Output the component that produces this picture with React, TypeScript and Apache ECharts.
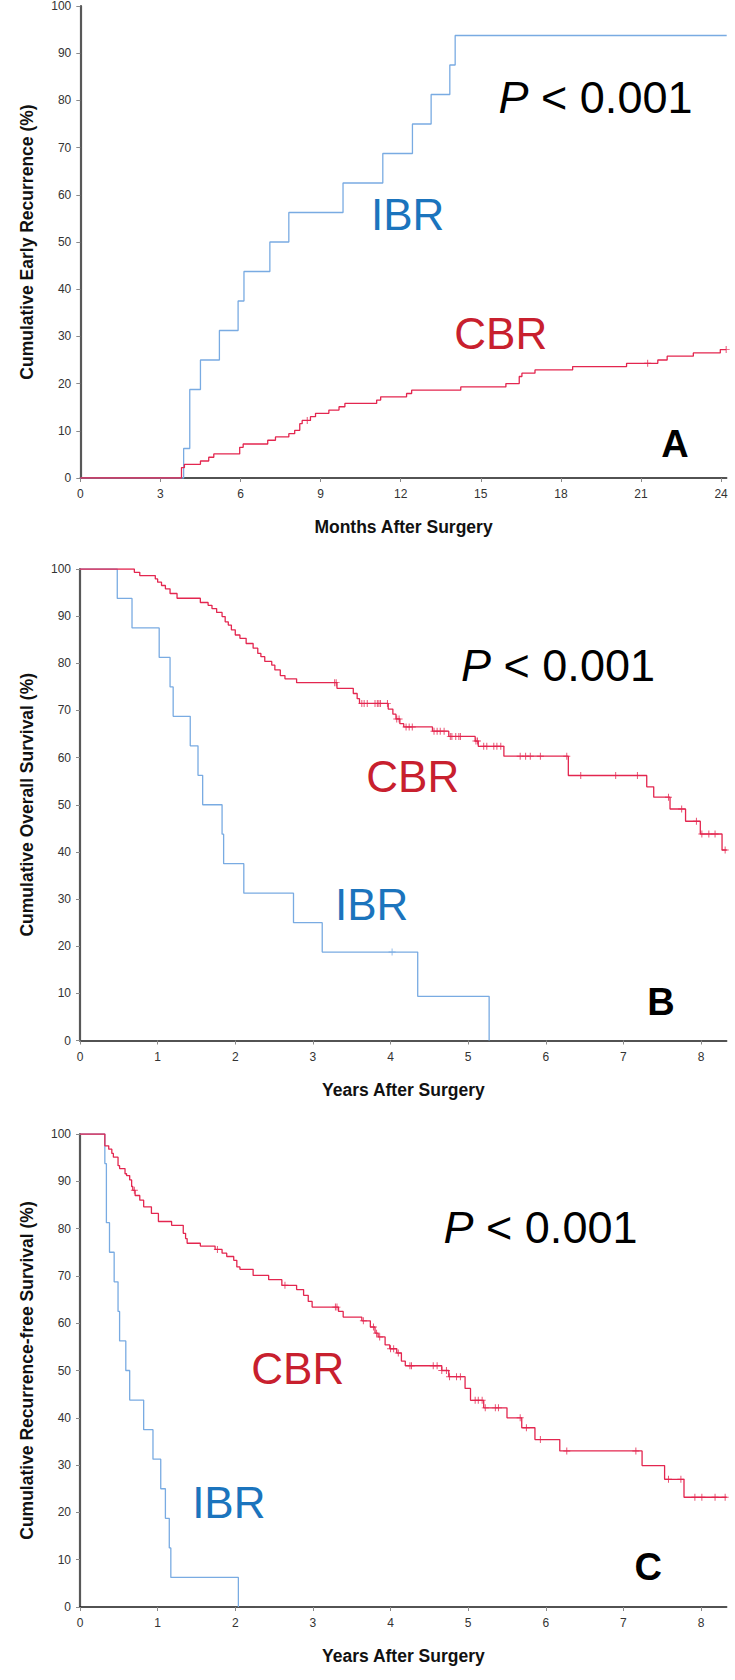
import React, { useEffect, useRef } from "react";
import * as echarts from "echarts";

// ---------- tick labels ----------
const monthTicks = [0, 3, 6, 9, 12, 15, 18, 21, 24];
const yearTicks = [0, 1, 2, 3, 4, 5, 6, 7, 8];

// ---------- Panel A: cumulative early recurrence (months) ----------
const aIbrTime = [0, 3.87, 4.1, 4.5, 5.21, 5.91, 6.13, 7.1, 7.81, 9.84, 11.33, 12.44, 13.14, 13.84, 14.04, 24.21];
const aIbrValue = [0, 6.25, 18.75, 25, 31.25, 37.5, 43.75, 50, 56.25, 62.5, 68.75, 75, 81.25, 87.5, 93.75, 93.75];
const aCbrTime = [0, 3.79, 3.9, 4.5, 4.81, 5.0, 5.97, 6.1, 7.02, 7.31, 7.81, 8.03, 8.22, 8.31, 8.62, 8.81, 9.31, 9.69, 9.91, 11.1, 11.25, 12.22, 12.41, 14.25, 15.94, 16.44, 16.54, 17.03, 18.44, 20.46, 21.63, 21.98, 22.96, 23.97, 24.19];
const aCbrValue = [0, 2.2, 2.9, 3.6, 4.4, 5.1, 6.5, 7.2, 8.0, 8.7, 9.4, 10.1, 11.5, 12.2, 13.0, 13.7, 14.4, 15.1, 15.8, 16.5, 17.2, 17.9, 18.6, 19.3, 20.0, 21.5, 22.2, 22.9, 23.6, 24.3, 25.0, 25.8, 26.5, 27.2, 27.2];
const aCbrCensor = [8.5, 21.25, 24.19];

// ---------- Panel B: overall survival (years) ----------
const bIbrTime = [0, 0.48, 0.67, 1.02, 1.16, 1.2, 1.42, 1.52, 1.58, 1.83, 1.85, 2.11, 2.75, 3.12, 4.35, 5.27];
const bIbrValue = [100, 93.75, 87.5, 81.25, 75, 68.75, 62.5, 56.25, 50, 43.75, 37.5, 31.25, 25, 18.75, 9.375, 0];
const bIbrCensor = [4.02];
const bCbrTime = [0, 0.7, 0.77, 0.97, 1.0, 1.05, 1.1, 1.16, 1.25, 1.55, 1.65, 1.7, 1.76, 1.83, 1.87, 1.91, 1.95, 2.0, 2.06, 2.14, 2.23, 2.29, 2.33, 2.38, 2.47, 2.51, 2.58, 2.64, 2.79, 3.31, 3.52, 3.57, 3.6, 3.97, 4.03, 4.07, 4.12, 4.17, 4.54, 4.75, 5.09, 5.13, 5.46, 6.29, 7.3, 7.39, 7.6, 7.8, 7.99, 8.27, 8.33];
const bCbrValue = [100, 99.3, 98.6, 97.9, 97.2, 96.5, 95.8, 94.8, 93.8, 92.9, 92.3, 91.6, 90.8, 89.9, 88.8, 88.1, 87.1, 86.0, 85.3, 84.2, 83.2, 82.1, 81.4, 80.4, 79.6, 78.6, 77.4, 76.7, 75.9, 74.7, 73.6, 72.5, 71.5, 70.3, 69.2, 68.2, 67.2, 66.5, 65.6, 64.5, 63.5, 62.4, 60.3, 56.2, 53.8, 51.6, 49.1, 46.5, 43.8, 40.4, 40.4];
const bCbrCensor = [3.28, 3.3, 3.63, 3.66, 3.7, 3.8, 3.83, 3.85, 3.87, 3.96, 4.08, 4.11, 4.2, 4.24, 4.28, 4.56, 4.6, 4.64, 4.69, 4.77, 4.79, 4.84, 4.88, 4.9, 5.1, 5.12, 5.2, 5.24, 5.33, 5.37, 5.42, 5.67, 5.74, 5.8, 5.93, 6.27, 6.45, 6.9, 7.18, 7.58, 7.75, 7.94, 8.01, 8.1, 8.18, 8.31];

// ---------- Panel C: recurrence-free survival (years) ----------
const cIbrTime = [0, 0.32, 0.34, 0.38, 0.44, 0.49, 0.51, 0.59, 0.64, 0.82, 0.94, 1.04, 1.1, 1.15, 1.17, 2.04];
const cIbrValue = [100, 93.75, 81.25, 75, 68.75, 62.5, 56.25, 50, 43.75, 37.5, 31.25, 25, 18.75, 12.5, 6.25, 0];
const cCbrTime = [0, 0.32, 0.37, 0.41, 0.43, 0.49, 0.51, 0.58, 0.6, 0.64, 0.665, 0.68, 0.71, 0.77, 0.82, 0.92, 1.01, 1.18, 1.33, 1.36, 1.38, 1.55, 1.74, 1.83, 1.89, 1.98, 2.02, 2.06, 2.23, 2.43, 2.6, 2.79, 2.88, 2.94, 2.99, 3.33, 3.39, 3.63, 3.74, 3.8, 3.84, 3.93, 3.99, 4.08, 4.14, 4.19, 4.66, 4.75, 4.96, 5.03, 5.2, 5.5, 5.69, 5.86, 6.18, 7.24, 7.53, 7.78, 8.33];
const cCbrValue = [100, 97.5, 96.8, 95.9, 95.1, 93.3, 92.7, 91.6, 91.2, 90.3, 88.9, 88.1, 87.0, 86.0, 84.6, 83.2, 81.5, 80.7, 79.0, 77.9, 76.9, 76.3, 75.6, 74.8, 74.1, 73.3, 71.9, 71.4, 70.1, 69.2, 68.0, 67.1, 65.9, 64.6, 63.4, 62.5, 61.3, 60.5, 59.2, 57.9, 57.1, 55.4, 54.6, 53.7, 52.0, 51.0, 50.0, 48.7, 46.2, 43.7, 42.1, 40.0, 37.9, 35.4, 33.0, 29.9, 27.0, 23.2, 23.2];
const cCbrCensor = [0.7, 1.77, 2.64, 3.29, 3.31, 3.65, 3.78, 3.82, 3.86, 4.0, 4.04, 4.1, 4.25, 4.27, 4.55, 4.6, 4.66, 4.72, 4.76, 4.85, 4.9, 5.09, 5.13, 5.18, 5.22, 5.35, 5.39, 5.67, 5.75, 5.93, 6.27, 7.16, 7.58, 7.74, 7.92, 8.01, 8.18, 8.31];

// ---------- styling ----------
const FONT = "'Liberation Sans', Arial, Helvetica, sans-serif";
const IBR_LINE = "#79abe2";
const CBR_LINE = "#e3264f";
const IBR_TEXT = "#1b74bd";
const CBR_TEXT = "#c8202e";
const PLUS = "path://M-0.14,-1H0.14V-0.14H1V0.14H0.14V1H-0.14V0.14H-1V-0.14H-0.14Z";

function pairs(t: number[], v: number[]) {
  return t.map((x, i) => [x, v[i]]);
}
function valueAt(t: number[], v: number[], x: number) {
  let val = v[0];
  for (let i = 0; i < t.length; i++) if (t[i] <= x) val = v[i];
  return val;
}
function censorPoints(cens: number[], t: number[], v: number[]) {
  return cens.map((c) => [c, valueAt(t, v, c)]);
}

function xAxis(gridIndex: number, max: number, ticks: number[], name: string) {
  return {
    type: "value",
    gridIndex,
    min: 0,
    max,
    axisLine: { show: true, onZero: false, lineStyle: { color: "#1a1a1a", width: 1.5 } },
    axisTick: { show: true, customValues: ticks, length: 4, lineStyle: { color: "#8a8a8a" } },
    axisLabel: { customValues: ticks, margin: 10, fontSize: 12, color: "#333", fontFamily: FONT },
    splitLine: { show: false },
    name,
    nameLocation: "middle",
    nameGap: 40,
    nameTextStyle: { fontSize: 17.5, fontWeight: "bold", color: "#111", fontFamily: FONT },
  };
}
function yAxis(gridIndex: number, name: string) {
  return {
    type: "value",
    gridIndex,
    min: 0,
    max: 100,
    interval: 10,
    axisLine: { show: true, onZero: false, lineStyle: { color: "#585858", width: 2.2 } },
    axisTick: { show: true, length: 4, lineStyle: { color: "#8a8a8a" } },
    axisLabel: { margin: 9, fontSize: 12, color: "#333", fontFamily: FONT },
    splitLine: { show: false },
    name,
    nameLocation: "middle",
    nameGap: 44,
    nameRotate: 90,
    nameTextStyle: { fontSize: 17.5, fontWeight: "bold", color: "#111", fontFamily: FONT },
  };
}
function stepLine(idx: number, t: number[], v: number[], color: string, name: string) {
  return {
    type: "line",
    name,
    xAxisIndex: idx,
    yAxisIndex: idx,
    step: "end",
    showSymbol: false,
    symbol: "none",
    lineStyle: { color, width: 1.3 },
    data: pairs(t, v),
    z: 3,
  };
}
function censorSeries(idx: number, pts: number[][], color: string, name: string) {
  return {
    type: "scatter",
    name,
    xAxisIndex: idx,
    yAxisIndex: idx,
    symbol: PLUS,
    symbolSize: 7,
    itemStyle: { color },
    data: pts,
    z: 4,
  };
}
function txt(x: number, y: number, text: string, color: string, size: number, bold = false) {
  return {
    type: "text",
    x,
    y,
    z: 10,
    style: {
      text,
      fill: color,
      fontSize: size,
      fontWeight: bold ? "bold" : "normal",
      fontFamily: FONT,
      align: "center",
      verticalAlign: "middle",
    },
  };
}
function pTxt(x: number, y: number) {
  return {
    type: "text",
    x,
    y,
    z: 10,
    style: {
      text: "{i|P}{n| < 0.001}",
      fill: "#000",
      fontSize: 45,
      fontFamily: FONT,
      align: "center",
      verticalAlign: "middle",
      rich: {
        i: { fontStyle: "italic", fontSize: 45, fontFamily: FONT, fill: "#000" },
        n: { fontSize: 45, fontFamily: FONT, fill: "#000" },
      },
    },
  };
}

export default function App() {
  const ref = useRef<HTMLDivElement>(null);
  useEffect(() => {
    if (!ref.current) return;
    const chart = echarts.init(ref.current, undefined, { renderer: "svg" });
    chart.setOption({
      animation: false,
      backgroundColor: "#ffffff",
      grid: [
        { left: 80.3, top: 5, width: 646.4, height: 473 },
        { left: 80, top: 569, width: 646.7, height: 471.5 },
        { left: 80, top: 1134, width: 646.7, height: 473 },
      ],
      xAxis: [
        xAxis(0, 24.21, monthTicks, "Months After Surgery"),
        xAxis(1, 8.33, yearTicks, "Years After Surgery"),
        xAxis(2, 8.33, yearTicks, "Years After Surgery"),
      ],
      yAxis: [
        yAxis(0, "Cumulative Early Recurrence (%)"),
        yAxis(1, "Cumulative Overall Survival (%)"),
        yAxis(2, "Cumulative Recurrence-free Survival (%)"),
      ],
      series: [
        stepLine(0, aIbrTime, aIbrValue, IBR_LINE, "IBR"),
        stepLine(0, aCbrTime, aCbrValue, CBR_LINE, "CBR"),
        censorSeries(0, censorPoints(aCbrCensor, aCbrTime, aCbrValue), CBR_LINE, "CBR censored"),
        stepLine(1, bIbrTime, bIbrValue, IBR_LINE, "IBR"),
        censorSeries(1, censorPoints(bIbrCensor, bIbrTime, bIbrValue), IBR_LINE, "IBR censored"),
        stepLine(1, bCbrTime, bCbrValue, CBR_LINE, "CBR"),
        censorSeries(1, censorPoints(bCbrCensor, bCbrTime, bCbrValue), CBR_LINE, "CBR censored"),
        stepLine(2, cIbrTime, cIbrValue, IBR_LINE, "IBR"),
        stepLine(2, cCbrTime, cCbrValue, CBR_LINE, "CBR"),
        censorSeries(2, censorPoints(cCbrCensor, cCbrTime, cCbrValue), CBR_LINE, "CBR censored"),
      ],
      graphic: [
        pTxt(595.5, 97.5),
        txt(407.7, 214.7, "IBR", IBR_TEXT, 44),
        txt(500.8, 333.8, "CBR", CBR_TEXT, 44),
        txt(675, 444, "A", "#000", 38, true),
        pTxt(558, 665.8),
        txt(412.8, 776.5, "CBR", CBR_TEXT, 44),
        txt(371.7, 904.3, "IBR", IBR_TEXT, 44),
        txt(661, 1001.7, "B", "#000", 38, true),
        pTxt(540.5, 1227.8),
        txt(297.8, 1368.3, "CBR", CBR_TEXT, 44),
        txt(228.8, 1502.9, "IBR", IBR_TEXT, 44),
        txt(648.3, 1567, "C", "#000", 38, true),
      ],
    });
    return () => chart.dispose();
  }, []);
  return (
    <div
      ref={ref}
      style={{ position: "absolute", left: 0, top: 0, width: 735, height: 1680, background: "#fff" }}
    />
  );
}
